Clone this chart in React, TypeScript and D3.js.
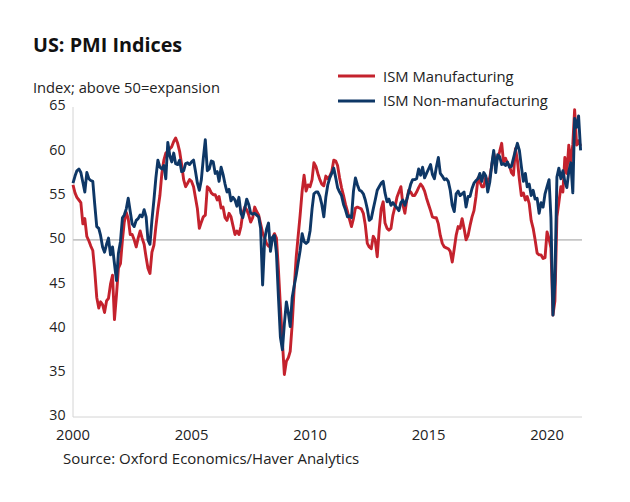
import React from "react";
import * as d3 from "d3";

const startYear = 2000;
const yearTicks = [2000, 2005, 2010, 2015, 2020];
const yTicks = [30, 35, 40, 45, 50, 55, 60, 65];
const seriesNames = ["ISM Manufacturing", "ISM Non-manufacturing"];

// Monthly values, Jan 2000 - Jun 2021
const manufacturing = [
  // 2000
  56.2, 55.3, 54.8, 54.5, 54.2, 51.8, 52.4, 50.4, 49.9, 49.3, 48.8, 46.5,
  // 2001
  43.5, 42.3, 43.0, 42.7, 41.8, 43.1, 43.4, 45.0, 46.0, 41.0, 43.8, 46.8,
  // 2002
  47.3, 50.0, 52.0, 53.1, 52.4, 50.6, 50.6, 50.0, 49.2, 50.2, 51.0, 50.2,
  // 2003
  49.5, 48.0, 46.8, 46.2, 48.6, 49.4, 51.5, 53.4, 55.0, 57.5, 59.0, 59.8,
  // 2004
  60.0, 60.3, 60.5, 61.1, 61.5, 60.9, 60.0, 58.5, 56.8, 56.0, 56.4, 56.8,
  // 2005
  56.6, 56.0, 54.8, 53.5, 51.3, 52.0, 52.6, 52.8, 56.0, 55.8, 55.3, 55.1,
  // 2006
  55.1, 54.5, 54.9, 53.6, 53.7, 52.5, 52.2, 53.0, 52.6, 51.6, 50.6, 51.0,
  // 2007
  50.6, 51.5, 53.0, 53.7, 53.4, 52.8, 52.0, 52.5, 53.7, 53.2, 52.8, 51.8,
  // 2008
  50.8, 50.2, 49.6, 49.3, 49.2, 50.2, 50.7, 50.2, 46.6, 42.5, 38.5, 34.8,
  // 2009
  36.3, 36.7, 37.4, 40.5, 44.5, 48.0, 50.4, 52.8, 55.5, 57.3, 55.5, 56.2,
  // 2010
  56.0, 56.8, 58.7, 58.3, 57.5, 56.8, 56.3, 56.1, 57.2, 56.9, 57.2, 57.7,
  // 2011
  59.0, 58.9, 58.4, 57.0, 55.9, 55.0, 54.0, 53.2, 52.3, 51.5, 52.4, 53.6,
  // 2012
  53.7, 53.6, 53.5, 53.0, 51.7, 49.6, 49.2, 49.0, 50.4, 50.0, 48.1, 51.1,
  // 2013
  53.5, 54.3, 51.9, 51.3, 51.1, 51.3, 52.8, 53.7, 54.8, 55.4, 56.0, 54.0,
  // 2014
  53.0, 54.6, 55.6, 55.4, 55.0, 55.0, 55.4, 55.9, 56.3, 56.0, 55.5, 54.7,
  // 2015
  54.0, 53.3, 52.6, 52.5, 52.5, 51.8, 50.5, 49.6, 49.2, 49.1, 49.0, 48.7,
  // 2016
  47.5, 49.0, 50.5, 51.5, 51.3, 52.4, 51.3, 50.0, 50.5, 51.6, 52.6, 53.3,
  // 2017
  54.9, 57.0, 56.6, 56.0, 56.0, 57.1, 56.5, 57.0, 58.4, 59.8, 58.8, 59.2,
  // 2018
  60.0, 60.9, 58.8, 59.2, 58.6, 58.4, 57.6, 57.3, 60.3, 59.0, 56.8, 55.0,
  // 2019
  55.3, 54.5, 54.9, 54.1, 52.2, 51.3, 50.0, 48.5, 48.3, 48.3, 47.9, 48.0,
  // 2020
  50.9, 50.1, 49.1, 41.5, 43.1, 52.6, 54.2, 56.0, 55.4, 59.3, 57.5, 60.7,
  // 2021
  58.7, 60.8, 64.7, 60.7, 61.2, 60.6,
];

const nonManufacturing = [
  // 2000
  56.4, 57.2, 57.8, 58.0, 57.6, 56.5, 55.4, 57.6, 56.9, 56.7, 56.6, 54.0,
  // 2001
  51.5, 51.3, 50.5, 49.2, 48.6, 49.5, 50.2, 48.3, 49.2, 47.3, 45.4, 48.5,
  // 2002
  49.8, 52.5, 52.8, 53.5, 54.7, 53.2, 51.8, 51.5, 52.2, 52.4, 52.8, 52.6,
  // 2003
  53.4, 52.6, 50.0, 49.5, 52.2, 54.5, 57.0, 59.0, 58.2, 58.0, 58.4, 56.9,
  // 2004
  61.0, 59.5, 58.8, 59.8, 58.6, 58.5, 59.0, 57.7, 57.8, 58.6, 58.7, 58.5,
  // 2005
  58.8, 59.0, 57.8, 56.4, 55.6, 56.8, 59.2, 61.3, 57.8, 58.0, 58.9, 58.8,
  // 2006
  57.5, 57.7, 56.6, 58.2, 57.4, 56.3, 55.4, 55.7, 54.4, 54.8, 54.5, 53.8,
  // 2007
  54.8, 53.0, 52.5, 53.5, 54.6, 54.0, 53.0, 52.9, 53.0, 52.8, 52.6, 51.3,
  // 2008
  44.9, 50.0, 51.2, 51.9, 48.7, 50.3, 50.5, 48.5, 43.5, 39.0, 37.6, 40.5,
  // 2009
  43.0, 41.7, 40.2, 43.5, 44.8, 46.0, 47.4, 48.8, 50.7, 49.8, 49.6, 49.8,
  // 2010
  51.0, 53.5, 55.2, 55.4, 55.4, 54.9, 54.0, 52.6, 54.8, 56.2, 57.0, 57.5,
  // 2011
  58.1, 57.0, 55.9, 55.4, 55.0, 54.0, 53.4, 52.6, 52.7, 52.5, 55.5, 57.0,
  // 2012
  56.2, 55.6, 55.5, 55.2, 54.5, 53.5, 52.2, 52.4, 53.5, 54.5, 55.6, 56.0,
  // 2013
  56.4, 56.6, 55.3, 54.3, 54.6, 53.9, 54.2, 53.9, 53.6, 53.3, 54.2, 54.5,
  // 2014
  53.9, 54.6, 55.4, 56.3, 56.8, 56.8, 56.9, 58.0, 57.3, 58.2, 57.0, 57.5,
  // 2015
  58.0, 58.5, 57.4, 56.9, 58.2, 59.3, 57.5, 57.2, 56.8, 56.9, 56.6, 55.6,
  // 2016
  53.9, 53.2, 55.2, 55.5, 55.0, 55.2, 55.4, 53.7, 54.9, 54.9, 55.8, 56.4,
  // 2017
  56.7, 56.9, 57.5, 56.6, 57.6, 57.2, 55.4, 56.5, 58.5, 60.1, 57.6, 59.6,
  // 2018
  59.4, 58.5, 58.6, 58.4, 58.8, 58.2, 58.3, 59.2, 60.1, 60.9, 60.1, 58.3,
  // 2019
  56.6, 57.5, 56.0, 56.3, 55.0, 55.6, 54.6, 54.7, 53.0, 54.2, 53.7, 55.2,
  // 2020
  56.0, 56.8, 52.5, 41.5, 45.4, 57.1, 58.1, 56.9, 57.8, 56.6, 55.9, 57.7,
  // 2021
  58.7, 55.3, 63.7, 62.7, 64.0, 60.1,
];

const RED = "#c4222d";
const BLUE = "#0e3766";
const FONT = "'Open Sans', 'Noto Sans', sans-serif";

export default function App() {
  const width = 630;
  const height = 502;
  const monthDate = (i: number) => new Date(startYear, i, 1);
  const n = manufacturing.length;
  const x = d3
    .scaleTime()
    .domain([monthDate(0), monthDate(n - 1)])
    .range([73, 580.6]);
  const y = d3.scaleLinear().domain([30, 65]).range([417, 107]);

  const line = d3
    .line<number>()
    .x((_, i) => x(monthDate(i)))
    .y((d) => y(d));

  const plotRight = 582;

  return (
    <svg
      width={width}
      height={height}
      style={{ position: "absolute", left: 0, top: 0, background: "#fff" }}
      fontFamily={FONT}
    >
      <rect width={width} height={height} fill="#fff" />
      <text x={33} y={51.5} fontSize={19.8} fontWeight="bold" fill="#111">
        US: PMI Indices
      </text>
      <text x={33} y={93} fontSize={14.7} fill="#222">
        Index; above 50=expansion
      </text>

      {/* axes */}
      <line x1={73} x2={73} y1={y(65)} y2={y(30)} stroke="#d4d4d4" strokeWidth={1} />
      <line x1={73} x2={plotRight} y1={y(30)} y2={y(30)} stroke="#d4d4d4" strokeWidth={1} />
      <line x1={73} x2={plotRight} y1={y(50)} y2={y(50)} stroke="#c6c6c6" strokeWidth={1.6} />

      {yTicks.map((t) => (
        <text
          key={t}
          x={65.5}
          y={y(t) - 1.5}
          dy="0.35em"
          textAnchor="end"
          fontSize={14.2}
          fill="#222"
        >
          {t}
        </text>
      ))}
      {yearTicks.map((yr) => (
        <text
          key={yr}
          x={x(new Date(yr, 0, 1))}
          y={440}
          textAnchor="middle"
          fontSize={14.8}
          fill="#222"
        >
          {yr}
        </text>
      ))}

      <path d={line(manufacturing) || ""} fill="none" stroke={RED} strokeWidth={2.9} strokeLinejoin="round" />
      <path d={line(nonManufacturing) || ""} fill="none" stroke={BLUE} strokeWidth={2.9} strokeLinejoin="round" />

      {/* legend */}
      <line x1={338} x2={375} y1={76} y2={76} stroke={RED} strokeWidth={2.9} />
      <text x={383} y={81.5} fontSize={14.8} fill="#222">
        {seriesNames[0]}
      </text>
      <line x1={338} x2={375} y1={101} y2={101} stroke={BLUE} strokeWidth={2.9} />
      <text x={383} y={105.5} fontSize={14.8} fill="#222">
        {seriesNames[1]}
      </text>

      <text x={63} y={464} fontSize={15} fill="#222">
        Source: Oxford Economics/Haver Analytics
      </text>
    </svg>
  );
}
